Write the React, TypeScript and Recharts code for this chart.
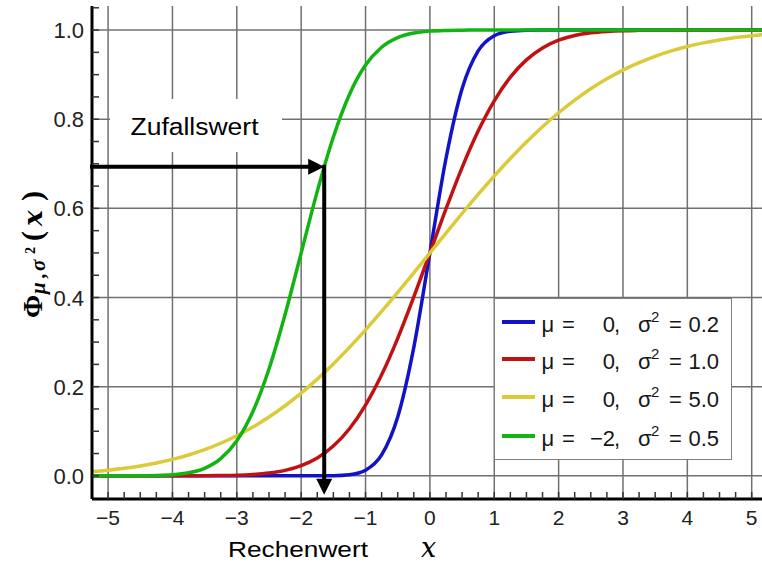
import React from 'react';
import { LineChart, Line, XAxis, YAxis, ReferenceLine, ReferenceArea, Legend } from 'recharts';

// x positions (shared by all series)
const xValues = [
  -5.25, -5, -4.75, -4.5, -4.25, -4, -3.75, -3.5, -3.25, -3, -2.75, -2.5, -2.25, -2, -1.75,
  -1.5, -1.25, -1, -0.75, -0.5, -0.25, 0, 0.25, 0.5, 0.75, 1, 1.25, 1.5, 1.75, 2, 2.25,
  2.5, 2.75, 3, 3.25, 3.5, 3.75, 4, 4.25, 4.5, 4.75, 5, 5.25,
];

// mu = 0, sigma^2 = 0.2
const blueValues = [
  0, 0, 0, 0, 0, 0, 0, 0, 0, 0, 0, 0, 0, 0, 0,
  0.0004, 0.0026, 0.0127, 0.0468, 0.1318, 0.2881, 0.5, 0.7119, 0.8682, 0.9532, 0.9873, 0.9974, 0.9996,
  1, 1, 1, 1, 1, 1, 1, 1, 1, 1, 1, 1, 1, 1, 1,
];

// mu = 0, sigma^2 = 1.0
const redValues = [
  0, 0, 0, 0, 0, 0, 0.0001, 0.0002, 0.0006, 0.0013, 0.003, 0.0062, 0.0122, 0.0228, 0.0401,
  0.0668, 0.1056, 0.1587, 0.2266, 0.3085, 0.4013, 0.5, 0.5987, 0.6915, 0.7734, 0.8413, 0.8944, 0.9332,
  0.9599, 0.9772, 0.9878, 0.9938, 0.997, 0.9987, 0.9994, 0.9998, 0.9999, 1, 1, 1, 1, 1, 1,
];

// mu = 0, sigma^2 = 5.0
const yellowValues = [
  0.0094, 0.0127, 0.0168, 0.0221, 0.0287, 0.0368, 0.0468, 0.0588, 0.0731, 0.0899, 0.1094, 0.1318,
  0.1572, 0.1855, 0.2169, 0.2511, 0.2881, 0.3274, 0.3687, 0.4115, 0.4555, 0.5, 0.5445, 0.5885,
  0.6313, 0.6726, 0.7119, 0.7489, 0.7831, 0.8145, 0.8428, 0.8682, 0.8906, 0.9101, 0.9269, 0.9412,
  0.9532, 0.9632, 0.9713, 0.9779, 0.9832, 0.9873, 0.9906,
];

// mu = -2, sigma^2 = 0.5
const greenValues = [
  0, 0, 0.0001, 0.0002, 0.0007, 0.0023, 0.0067, 0.0169, 0.0385, 0.0786, 0.1444, 0.2398, 0.3618,
  0.5, 0.6382, 0.7602, 0.8556, 0.9214, 0.9615, 0.9831, 0.9933, 0.9977, 0.9993, 0.9998,
  1, 1, 1, 1, 1, 1, 1, 1, 1, 1, 1, 1, 1, 1, 1, 1, 1, 1, 1,
];

const seriesKeys = ['blue', 'red', 'yellow', 'green'];
const seriesColors = ['#1212c6', '#c01212', '#dbcb3a', '#12b412'];
const muLabels = ['0', '0', '0', '\u22122'];
const sigmaLabels = ['0.2', '1.0', '5.0', '0.5'];

const xMajorTicks = [-5, -4, -3, -2, -1, 0, 1, 2, 3, 4, 5];
const xTickLabels = ['\u22125', '\u22124', '\u22123', '\u22122', '\u22121', '0', '1', '2', '3', '4', '5'];
const yMajorTicks = [0, 0.2, 0.4, 0.6, 0.8, 1.0];
const yTickLabels = ['0.0', '0.2', '0.4', '0.6', '0.8', '1.0'];
const xMinorTicks = Array.from({ length: 41 }, (_, i) => -5 + i * 0.25);
const yMinorTicks = Array.from({ length: 22 }, (_, i) => Math.round(i * 5) / 100);

// annotation: random value read on the green curve
const arrowLevel = 0.6935;
const arrowX = -1.642;
const arrowBottom = -0.0426;

const xDomain: [number, number] = [-5.25, 5.16];
const yDomain: [number, number] = [-0.052, 1.054];

const rows = xValues.map((x, i) => ({
  x,
  blue: blueValues[i],
  red: redValues[i],
  yellow: yellowValues[i],
  green: greenValues[i],
}));

const SANS = 'Liberation Sans, Arial, Helvetica, sans-serif';
const SERIF = 'Liberation Serif, Times New Roman, serif';
const MATH = 'DejaVu Serif, Liberation Serif, serif';

const BottomTick = (props: any) => {
  const { x, y, payload } = props;
  const v = payload.value;
  const idx = xMajorTicks.findIndex((t) => Math.abs(t - v) < 1e-6);
  return (
    <g>
      <line x1={x} x2={x} y1={y} y2={y - 7} stroke="#333" strokeWidth={1.5} />
      {idx >= 0 && (
        <text x={x} y={y + 26} textAnchor="middle" fontSize={21} fontFamily={SANS} fill="#222">
          {xTickLabels[idx]}
        </text>
      )}
    </g>
  );
};

const TopTick = (props: any) => {
  const { x, y } = props;
  return <line x1={x} x2={x} y1={y} y2={y + 7} stroke="#333" strokeWidth={1.5} />;
};

const LeftTick = (props: any) => {
  const { x, y, payload } = props;
  const v = payload.value;
  const idx = yMajorTicks.findIndex((t) => Math.abs(t - v) < 1e-6);
  return (
    <g>
      <line x1={x} x2={x + 7} y1={y} y2={y} stroke="#333" strokeWidth={1.5} />
      {idx >= 0 && (
        <text x={x - 8} y={y + 8} textAnchor="end" fontSize={22} fontFamily={SANS} fill="#222">
          {yTickLabels[idx]}
        </text>
      )}
    </g>
  );
};

const XLabel = () => (
  <g>
    <text x={228} y={557} fontSize={21.5} fontFamily={SANS} fill="#000" textLength={140} lengthAdjust="spacingAndGlyphs">
      Rechenwert
    </text>
    <text x={421} y={557} fontSize={27} fontFamily={MATH} fontStyle="italic" fill="#000">
      x
    </text>
  </g>
);

const YLabel = () => (
  <g transform="translate(42,318) rotate(-90)" fill="#000" fontFamily={SERIF} fontWeight="bold">
    <text x={0} y={0} fontSize={28}>Φ</text>
    <text x={24} y={3} fontSize={21} fontStyle="italic">μ</text>
    <text x={40} y={3} fontSize={21} fontStyle="italic">,</text>
    <text x={47} y={3} fontSize={21} fontStyle="italic">σ</text>
    <text x={64} y={-7} fontSize={14}>2</text>
    <text x={77} y={0} fontSize={30}>(</text>
    <text x={92} y={0} fontSize={26} fontStyle="italic" fontFamily={MATH}>x</text>
    <text x={117} y={0} fontSize={30}>)</text>
  </g>
);

const ZufallLabel = (props: any) => {
  const vb = props.viewBox || { x: 0, y: 0, width: 0, height: 0 };
  return (
    <text
      x={vb.x + vb.width / 2 - 1.5}
      y={vb.y + vb.height / 2 + 9.5}
      textAnchor="middle"
      fontSize={23}
      fontFamily={SANS}
      fill="#000"
      textLength={128}
      lengthAdjust="spacingAndGlyphs"
    >
      Zufallswert
    </text>
  );
};

const ArrowShape = (props: any) => {
  const { x1, y1, x2, y2 } = props;
  const dx = x2 - x1;
  const dy = y2 - y1;
  const len = Math.hypot(dx, dy) || 1;
  const ux = dx / len;
  const uy = dy / len;
  const head = 16;
  const half = 8;
  const bx = x2 - ux * head;
  const by = y2 - uy * head;
  return (
    <g>
      <line x1={x1} y1={y1} x2={bx} y2={by} stroke="#000" strokeWidth={4} strokeLinecap="square" />
      <polygon
        points={`${x2},${y2} ${bx - uy * half},${by + ux * half} ${bx + uy * half},${by - ux * half}`}
        fill="#000"
      />
    </g>
  );
};

const rowLine = [24, 61, 99, 138];

const LegendBox = () => (
  <div
    style={{
      position: 'relative',
      width: 238,
      height: 162,
      boxSizing: 'border-box',
      border: '1.5px solid #808080',
      background: '#fff',
      fontFamily: SANS,
      fontSize: 22,
      color: '#161616',
    }}
  >
    {seriesKeys.map((k, i) => {
      const cl = rowLine[i] - 1.5;
      const ct = cl + 3.5;
      const base: React.CSSProperties = { position: 'absolute', top: ct - 13, lineHeight: '26px', whiteSpace: 'nowrap' };
      return (
        <React.Fragment key={k}>
          <div style={{ position: 'absolute', left: 6.5, top: cl - 2, width: 33, height: 4, background: seriesColors[i] }} />
          <span style={{ ...base, left: 46.5 }}>μ</span>
          <span style={{ ...base, left: 67 }}>=</span>
          <span style={{ ...base, right: 238 - 3 - 119, textAlign: 'right' }}>{muLabels[i]}</span>
          <span style={{ ...base, left: 119 }}>,</span>
          <span style={{ ...base, left: 143 }}>σ</span>
          <span style={{ position: 'absolute', top: ct - 16, left: 156, fontSize: 15, lineHeight: '15px' }}>2</span>
          <span style={{ ...base, left: 174 }}>=</span>
          <span style={{ ...base, left: 193.5 }}>{sigmaLabels[i]}</span>
        </React.Fragment>
      );
    })}
  </div>
);

export default function App() {
  return (
    <div style={{ position: 'absolute', left: 0, top: 0, width: 762, height: 564, background: '#fff' }}>
      <LineChart width={762} height={564} data={rows} margin={{ top: 6, right: 0, bottom: 0, left: 0 }}>
        <XAxis
          dataKey="x"
          type="number"
          domain={xDomain}
          allowDataOverflow
          ticks={xMinorTicks}
          interval={0}
          tickSize={0}
          tickMargin={0}
          tickLine={false}
          tick={BottomTick}
          axisLine={{ stroke: '#000', strokeWidth: 3 }}
          height={65}
          label={XLabel}
        />
        <XAxis
          xAxisId="top"
          orientation="top"
          dataKey="x"
          type="number"
          domain={xDomain}
          allowDataOverflow
          ticks={xMinorTicks}
          interval={0}
          tickSize={0}
          tickMargin={0}
          tickLine={false}
          tick={TopTick}
          axisLine={{ stroke: '#000', strokeWidth: 3 }}
          height={0}
        />
        <YAxis
          type="number"
          domain={yDomain}
          allowDataOverflow
          ticks={yMinorTicks}
          interval={0}
          tickSize={0}
          tickMargin={0}
          tickLine={false}
          tick={LeftTick}
          axisLine={{ stroke: '#000', strokeWidth: 3 }}
          width={92}
          label={YLabel}
        />
        {xMajorTicks.map((v) => (
          <ReferenceLine key={'gx' + v} x={v} stroke="#707070" strokeWidth={1.5} zIndex={-100} />
        ))}
        {yMajorTicks.map((v) => (
          <ReferenceLine key={'gy' + v} y={v} stroke="#707070" strokeWidth={1.5} zIndex={-100} />
        ))}
        <ReferenceArea
          x1={-4.97}
          x2={-2.298}
          y1={0.7265}
          y2={0.8453}
          fill="#fff"
          fillOpacity={1}
          stroke="none"
          zIndex={-50}
          label={ZufallLabel}
        />
        {seriesKeys.map((k, i) => (
          <Line
            key={k}
            dataKey={k}
            type="monotone"
            stroke={seriesColors[i]}
            strokeWidth={3.5}
            dot={false}
            activeDot={false}
            isAnimationActive={false}
          />
        ))}
        <ReferenceLine
          segment={[
            { x: xDomain[0], y: arrowLevel },
            { x: arrowX, y: arrowLevel },
          ]}
          ifOverflow="visible"
          shape={ArrowShape}
          zIndex={1500}
        />
        <ReferenceLine
          segment={[
            { x: arrowX, y: arrowLevel },
            { x: arrowX, y: arrowBottom },
          ]}
          ifOverflow="visible"
          shape={ArrowShape}
          zIndex={1500}
        />
        <Legend
          layout="horizontal"
          verticalAlign="middle"
          align="center"
          content={LegendBox}
          wrapperStyle={{ left: 494, top: 298, width: 238, height: 162 }}
        />
      </LineChart>
    </div>
  );
}
